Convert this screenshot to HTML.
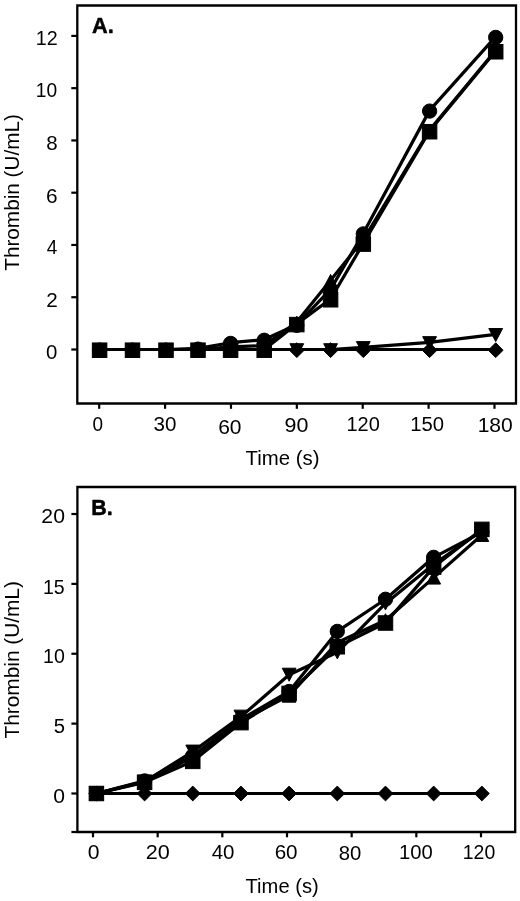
<!DOCTYPE html>
<html><head><meta charset="utf-8"><title>Thrombin generation</title>
<style>
html,body{margin:0;padding:0;background:#fff;}
body{width:520px;height:901px;overflow:hidden;}
svg{display:block;font-family:"Liberation Sans",sans-serif;will-change:transform;}
text{stroke:none;fill:#000;}
</style></head><body>
<svg width="520" height="901" viewBox="0 0 520 901">
<g stroke="#000" fill="#000">
<path d="M77.3,403.5 L77.3,5.5 L516,5.5 L516,403.5 Z" fill="none" stroke-width="2.3"/>
<line x1="99.20" y1="403.50" x2="99.20" y2="408.80" stroke-width="2.2"/>
<line x1="165.08" y1="403.50" x2="165.08" y2="408.80" stroke-width="2.2"/>
<line x1="230.96" y1="403.50" x2="230.96" y2="408.80" stroke-width="2.2"/>
<line x1="296.84" y1="403.50" x2="296.84" y2="408.80" stroke-width="2.2"/>
<line x1="362.72" y1="403.50" x2="362.72" y2="408.80" stroke-width="2.2"/>
<line x1="428.60" y1="403.50" x2="428.60" y2="408.80" stroke-width="2.2"/>
<line x1="494.48" y1="403.50" x2="494.48" y2="408.80" stroke-width="2.2"/>
<line x1="71.30" y1="349.50" x2="77.30" y2="349.50" stroke-width="2.2"/>
<line x1="71.30" y1="297.23" x2="77.30" y2="297.23" stroke-width="2.2"/>
<line x1="71.30" y1="244.97" x2="77.30" y2="244.97" stroke-width="2.2"/>
<line x1="71.30" y1="192.70" x2="77.30" y2="192.70" stroke-width="2.2"/>
<line x1="71.30" y1="140.44" x2="77.30" y2="140.44" stroke-width="2.2"/>
<line x1="71.30" y1="88.17" x2="77.30" y2="88.17" stroke-width="2.2"/>
<line x1="71.30" y1="35.90" x2="77.30" y2="35.90" stroke-width="2.2"/>
<text transform="translate(35.70,45.10) scale(0.984,1)" font-size="20">12</text>
<text transform="translate(35.74,97.10) scale(0.958,1)" font-size="20">10</text>
<text transform="translate(46.21,149.80) scale(1.023,1)" font-size="20">8</text>
<text transform="translate(46.04,202.60) scale(1.040,1)" font-size="20">6</text>
<text transform="translate(46.68,254.30) scale(0.950,1)" font-size="20">4</text>
<text transform="translate(46.16,306.60) scale(1.032,1)" font-size="20">2</text>
<text transform="translate(45.95,358.80) scale(1.020,1)" font-size="20">0</text>
<text transform="translate(92.47,431.30) scale(0.950,1)" font-size="20">0</text>
<text transform="translate(153.57,431.20) scale(1.029,1)" font-size="20">30</text>
<text transform="translate(218.18,433.80) scale(1.051,1)" font-size="20">60</text>
<text transform="translate(284.50,431.80) scale(1.072,1)" font-size="20">90</text>
<text transform="translate(346.48,431.30) scale(0.998,1)" font-size="20">120</text>
<text transform="translate(410.21,431.20) scale(1.014,1)" font-size="20">150</text>
<text transform="translate(477.64,432.30) scale(1.054,1)" font-size="20">180</text>
<text transform="translate(245.54,464.82) scale(1.009,1)" font-size="20.2">Time (s)</text>
<text transform="translate(18.80,270.77) rotate(-90) scale(1.012,1)" font-size="20.5">Thrombin (U/mL)</text>
<text transform="translate(92.11,32.75) scale(0.966,1)" font-size="22.5" font-weight="bold" style="stroke:#000;stroke-width:0.52px;stroke-linejoin:round">A.</text>
<polyline points="99.60,349.50 132.50,349.50 166.00,349.50 198.00,349.50 230.60,349.50 264.20,349.50 296.80,349.50 330.60,349.50 363.30,349.50 429.60,349.50 495.70,349.50" fill="none" stroke-width="3.2" stroke-linejoin="round"/>
<polyline points="99.60,349.50 132.50,349.50 166.00,349.50 198.00,349.50 230.60,349.50 264.20,349.50 296.80,349.50 330.60,349.50 363.30,347.41 429.60,342.44 495.70,334.34" fill="none" stroke-width="3.2" stroke-linejoin="round"/>
<polyline points="99.60,349.50 132.50,349.50 166.00,349.50 198.00,349.50 230.60,346.89 264.20,345.58 296.80,322.06 330.60,280.25 363.30,239.74 429.60,129.98 495.70,50.28" fill="none" stroke-width="3.2" stroke-linejoin="round"/>
<polyline points="99.60,349.50 132.50,349.50 166.00,349.50 198.00,349.50 230.60,349.50 264.20,349.50 296.80,323.89 330.60,299.06 363.30,243.40 429.60,131.03 495.70,51.06" fill="none" stroke-width="3.2" stroke-linejoin="round"/>
<polyline points="99.60,349.50 132.50,349.50 166.00,349.50 198.00,348.45 230.60,342.71 264.20,339.57 296.80,324.67 330.60,289.39 363.30,233.21 429.60,110.38 495.70,36.69" fill="none" stroke-width="3.2" stroke-linejoin="round"/>
<polygon points="99.60,342.80 107.00,350.20 99.60,357.60 92.20,350.20"/>
<polygon points="132.50,342.80 139.90,350.20 132.50,357.60 125.10,350.20"/>
<polygon points="166.00,342.80 173.40,350.20 166.00,357.60 158.60,350.20"/>
<polygon points="198.00,342.80 205.40,350.20 198.00,357.60 190.60,350.20"/>
<polygon points="230.60,342.80 238.00,350.20 230.60,357.60 223.20,350.20"/>
<polygon points="264.20,342.80 271.60,350.20 264.20,357.60 256.80,350.20"/>
<polygon points="296.80,342.80 304.20,350.20 296.80,357.60 289.40,350.20"/>
<polygon points="330.60,342.80 338.00,350.20 330.60,357.60 323.20,350.20"/>
<polygon points="363.30,342.80 370.70,350.20 363.30,357.60 355.90,350.20"/>
<polygon points="429.60,342.80 437.00,350.20 429.60,357.60 422.20,350.20"/>
<polygon points="495.70,342.80 503.10,350.20 495.70,357.60 488.30,350.20"/>
<polygon points="92.70,343.70 106.50,343.70 99.60,356.70"/>
<polygon points="125.60,343.70 139.40,343.70 132.50,356.70"/>
<polygon points="159.10,343.70 172.90,343.70 166.00,356.70"/>
<polygon points="191.10,343.70 204.90,343.70 198.00,356.70"/>
<polygon points="223.70,343.70 237.50,343.70 230.60,356.70"/>
<polygon points="257.30,343.70 271.10,343.70 264.20,356.70"/>
<polygon points="289.90,343.70 303.70,343.70 296.80,356.70"/>
<polygon points="323.70,343.70 337.50,343.70 330.60,356.70"/>
<polygon points="356.40,341.61 370.20,341.61 363.30,354.61"/>
<polygon points="422.70,336.64 436.50,336.64 429.60,349.64"/>
<polygon points="488.80,328.54 502.60,328.54 495.70,341.54"/>
<polygon points="99.60,343.70 106.50,356.70 92.70,356.70"/>
<polygon points="132.50,343.70 139.40,356.70 125.60,356.70"/>
<polygon points="166.00,343.70 172.90,356.70 159.10,356.70"/>
<polygon points="198.00,343.70 204.90,356.70 191.10,356.70"/>
<polygon points="230.60,341.09 237.50,354.09 223.70,354.09"/>
<polygon points="264.20,339.78 271.10,352.78 257.30,352.78"/>
<polygon points="296.80,316.26 303.70,329.26 289.90,329.26"/>
<polygon points="330.60,274.45 337.50,287.45 323.70,287.45"/>
<polygon points="363.30,233.94 370.20,246.94 356.40,246.94"/>
<polygon points="429.60,124.18 436.50,137.18 422.70,137.18"/>
<polygon points="495.70,44.48 502.60,57.48 488.80,57.48"/>
<rect x="92.35" y="342.95" width="14.50" height="14.50"/>
<rect x="125.25" y="342.95" width="14.50" height="14.50"/>
<rect x="158.75" y="342.95" width="14.50" height="14.50"/>
<rect x="190.75" y="342.95" width="14.50" height="14.50"/>
<rect x="223.35" y="342.95" width="14.50" height="14.50"/>
<rect x="256.95" y="342.95" width="14.50" height="14.50"/>
<rect x="289.55" y="317.34" width="14.50" height="14.50"/>
<rect x="323.35" y="292.51" width="14.50" height="14.50"/>
<rect x="356.05" y="236.85" width="14.50" height="14.50"/>
<rect x="422.35" y="124.48" width="14.50" height="14.50"/>
<rect x="488.45" y="44.51" width="14.50" height="14.50"/>
<circle cx="99.60" cy="350.20" r="7.15"/>
<circle cx="132.50" cy="350.20" r="7.15"/>
<circle cx="166.00" cy="350.20" r="7.15"/>
<circle cx="198.00" cy="349.15" r="7.15"/>
<circle cx="230.60" cy="343.41" r="7.15"/>
<circle cx="264.20" cy="340.27" r="7.15"/>
<circle cx="296.80" cy="325.37" r="7.15"/>
<circle cx="330.60" cy="290.09" r="7.15"/>
<circle cx="363.30" cy="233.91" r="7.15"/>
<circle cx="429.60" cy="111.08" r="7.15"/>
<circle cx="495.70" cy="37.39" r="7.15"/>
<path d="M77.4,832 L77.4,487 L515.2,487 L515.2,832 Z" fill="none" stroke-width="2.3"/>
<line x1="93.00" y1="832.00" x2="93.00" y2="837.30" stroke-width="2.2"/>
<line x1="157.67" y1="832.00" x2="157.67" y2="837.30" stroke-width="2.2"/>
<line x1="222.33" y1="832.00" x2="222.33" y2="837.30" stroke-width="2.2"/>
<line x1="287.00" y1="832.00" x2="287.00" y2="837.30" stroke-width="2.2"/>
<line x1="351.66" y1="832.00" x2="351.66" y2="837.30" stroke-width="2.2"/>
<line x1="416.33" y1="832.00" x2="416.33" y2="837.30" stroke-width="2.2"/>
<line x1="481.00" y1="832.00" x2="481.00" y2="837.30" stroke-width="2.2"/>
<line x1="71.40" y1="793.50" x2="77.40" y2="793.50" stroke-width="2.2"/>
<line x1="71.40" y1="723.62" x2="77.40" y2="723.62" stroke-width="2.2"/>
<line x1="71.40" y1="653.75" x2="77.40" y2="653.75" stroke-width="2.2"/>
<line x1="71.40" y1="583.88" x2="77.40" y2="583.88" stroke-width="2.2"/>
<line x1="71.40" y1="514.00" x2="77.40" y2="514.00" stroke-width="2.2"/>
<line x1="71.40" y1="832.00" x2="77.40" y2="832.00" stroke-width="2.2"/>
<text transform="translate(41.33,523.20) scale(1.061,1)" font-size="20">20</text>
<text transform="translate(43.01,593.50) scale(0.976,1)" font-size="20">15</text>
<text transform="translate(43.01,663.30) scale(0.978,1)" font-size="20">10</text>
<text transform="translate(53.69,733.10) scale(1.012,1)" font-size="20">5</text>
<text transform="translate(53.17,802.80) scale(1.056,1)" font-size="20">0</text>
<text transform="translate(87.77,859.30) scale(1.056,1)" font-size="20">0</text>
<text transform="translate(145.72,859.30) scale(1.080,1)" font-size="20">20</text>
<text transform="translate(211.73,859.30) scale(1.024,1)" font-size="20">40</text>
<text transform="translate(274.65,859.30) scale(1.032,1)" font-size="20">60</text>
<text transform="translate(338.72,859.50) scale(1.015,1)" font-size="20">80</text>
<text transform="translate(398.96,859.40) scale(1.011,1)" font-size="20">100</text>
<text transform="translate(462.77,859.30) scale(0.974,1)" font-size="20">120</text>
<text transform="translate(245.55,892.82) scale(0.999,1)" font-size="20.2">Time (s)</text>
<text transform="translate(18.80,738.47) rotate(-90) scale(1.016,1)" font-size="20.5">Thrombin (U/mL)</text>
<text transform="translate(91.22,514.65) scale(0.951,1)" font-size="22.5" font-weight="bold" style="stroke:#000;stroke-width:0.53px;stroke-linejoin:round">B.</text>
<polyline points="96.40,793.50 144.58,793.50 192.76,793.50 240.94,793.50 289.12,793.50 337.30,793.50 385.48,793.50 433.66,793.50 481.84,793.50" fill="none" stroke-width="3.2" stroke-linejoin="round"/>
<polyline points="96.40,793.50 144.58,781.62 192.76,751.58 240.94,716.64 289.12,674.71 337.30,652.35 385.48,603.44 433.66,564.31 481.84,530.77" fill="none" stroke-width="3.2" stroke-linejoin="round"/>
<polyline points="96.40,793.50 144.58,781.62 192.76,757.16 240.94,720.83 289.12,695.67 337.30,642.57 385.48,620.21 433.66,577.59 481.84,534.96" fill="none" stroke-width="3.2" stroke-linejoin="round"/>
<polyline points="96.40,793.50 144.58,782.32 192.76,761.36 240.94,722.65 289.12,693.44 337.30,646.76 385.48,623.00 433.66,567.11 481.84,529.37" fill="none" stroke-width="3.2" stroke-linejoin="round"/>
<polyline points="96.40,793.50 144.58,780.92 192.76,755.77 240.94,719.43 289.12,691.48 337.30,631.39 385.48,599.25 433.66,557.32 481.84,532.17" fill="none" stroke-width="3.2" stroke-linejoin="round"/>
<polygon points="96.40,786.10 103.80,793.50 96.40,800.90 89.00,793.50"/>
<polygon points="144.58,786.10 151.98,793.50 144.58,800.90 137.18,793.50"/>
<polygon points="192.76,786.10 200.16,793.50 192.76,800.90 185.36,793.50"/>
<polygon points="240.94,786.10 248.34,793.50 240.94,800.90 233.54,793.50"/>
<polygon points="289.12,786.10 296.52,793.50 289.12,800.90 281.72,793.50"/>
<polygon points="337.30,786.10 344.70,793.50 337.30,800.90 329.90,793.50"/>
<polygon points="385.48,786.10 392.88,793.50 385.48,800.90 378.08,793.50"/>
<polygon points="433.66,786.10 441.06,793.50 433.66,800.90 426.26,793.50"/>
<polygon points="481.84,786.10 489.24,793.50 481.84,800.90 474.44,793.50"/>
<polygon points="89.50,787.00 103.30,787.00 96.40,800.00"/>
<polygon points="137.68,775.12 151.48,775.12 144.58,788.12"/>
<polygon points="185.86,745.08 199.66,745.08 192.76,758.08"/>
<polygon points="234.04,710.14 247.84,710.14 240.94,723.14"/>
<polygon points="282.22,668.21 296.02,668.21 289.12,681.21"/>
<polygon points="330.40,645.85 344.20,645.85 337.30,658.85"/>
<polygon points="378.58,596.94 392.38,596.94 385.48,609.94"/>
<polygon points="426.76,557.81 440.56,557.81 433.66,570.81"/>
<polygon points="474.94,524.27 488.74,524.27 481.84,537.27"/>
<polygon points="96.40,787.00 103.30,800.00 89.50,800.00"/>
<polygon points="144.58,775.12 151.48,788.12 137.68,788.12"/>
<polygon points="192.76,750.66 199.66,763.66 185.86,763.66"/>
<polygon points="240.94,714.33 247.84,727.33 234.04,727.33"/>
<polygon points="289.12,689.17 296.02,702.17 282.22,702.17"/>
<polygon points="337.30,636.07 344.20,649.07 330.40,649.07"/>
<polygon points="385.48,613.71 392.38,626.71 378.58,626.71"/>
<polygon points="433.66,571.09 440.56,584.09 426.76,584.09"/>
<polygon points="481.84,528.46 488.74,541.46 474.94,541.46"/>
<rect x="89.15" y="786.25" width="14.50" height="14.50"/>
<rect x="137.33" y="775.07" width="14.50" height="14.50"/>
<rect x="185.51" y="754.11" width="14.50" height="14.50"/>
<rect x="233.69" y="715.40" width="14.50" height="14.50"/>
<rect x="281.87" y="686.19" width="14.50" height="14.50"/>
<rect x="330.05" y="639.51" width="14.50" height="14.50"/>
<rect x="378.23" y="615.75" width="14.50" height="14.50"/>
<rect x="426.41" y="559.86" width="14.50" height="14.50"/>
<rect x="474.59" y="522.12" width="14.50" height="14.50"/>
<circle cx="96.40" cy="793.50" r="7.15"/>
<circle cx="144.58" cy="780.92" r="7.15"/>
<circle cx="192.76" cy="755.77" r="7.15"/>
<circle cx="240.94" cy="719.43" r="7.15"/>
<circle cx="289.12" cy="691.48" r="7.15"/>
<circle cx="337.30" cy="631.39" r="7.15"/>
<circle cx="385.48" cy="599.25" r="7.15"/>
<circle cx="433.66" cy="557.32" r="7.15"/>
<circle cx="481.84" cy="532.17" r="7.15"/>
</g>
</svg>
</body></html>
